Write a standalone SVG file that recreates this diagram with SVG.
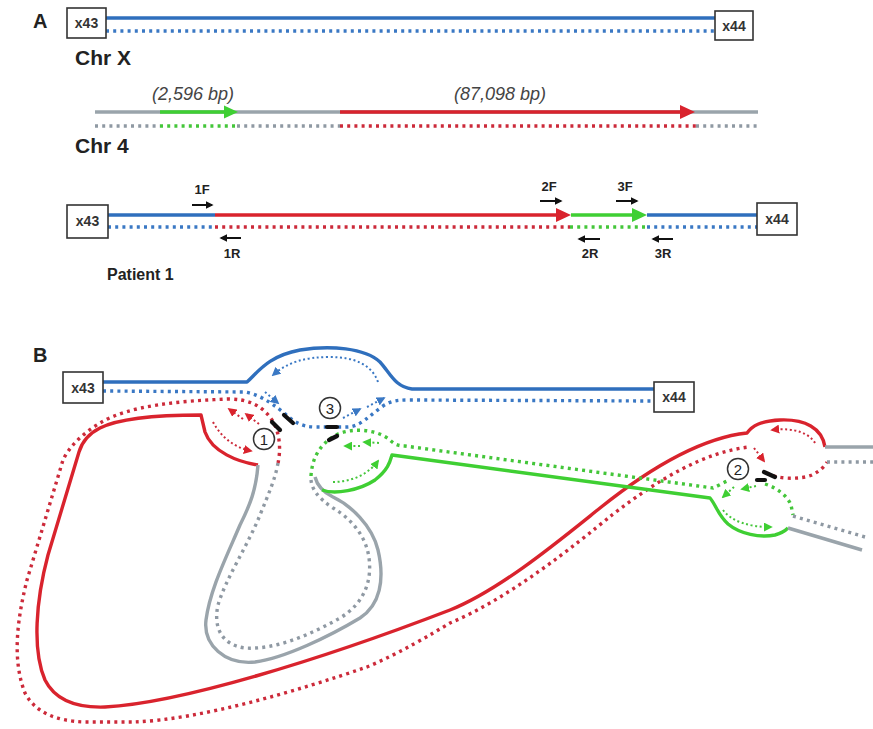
<svg xmlns="http://www.w3.org/2000/svg" width="873" height="729" viewBox="0 0 873 729">
  <defs>
    <marker id="hBlue" viewBox="0 0 10 10" refX="8" refY="5" markerUnits="userSpaceOnUse" markerWidth="9" markerHeight="9" orient="auto">
      <path d="M0,0 L10,5 L0,10 z" fill="#3a78c4"/>
    </marker>
    <marker id="hRed" viewBox="0 0 10 10" refX="8" refY="5" markerUnits="userSpaceOnUse" markerWidth="9" markerHeight="9" orient="auto">
      <path d="M0,0 L10,5 L0,10 z" fill="#d9232d"/>
    </marker>
    <marker id="hGreen" viewBox="0 0 10 10" refX="8" refY="5" markerUnits="userSpaceOnUse" markerWidth="9" markerHeight="9" orient="auto">
      <path d="M0,0 L10,5 L0,10 z" fill="#3fcf33"/>
    </marker>
    <marker id="hBlack" viewBox="0 0 10 10" refX="8" refY="5" markerUnits="userSpaceOnUse" markerWidth="8" markerHeight="8" orient="auto">
      <path d="M0,0 L10,5 L0,10 z" fill="#111"/>
    </marker>
  </defs>
  <style>
    .lbl { font-family: "Liberation Sans", Arial, sans-serif; font-weight: bold; fill: #222; }
    .bp { font-family: "Liberation Sans", Arial, sans-serif; font-style: italic; font-size: 18px; fill: #444; text-anchor: middle; }
    .box { fill: #fff; stroke: #333; stroke-width: 1.6; }
    .boxt { font-family: "Liberation Sans", Arial, sans-serif; font-weight: bold; font-size: 14px; fill: #333; text-anchor: middle; }
    .pr { font-family: "Liberation Sans", Arial, sans-serif; font-weight: bold; font-size: 13px; fill: #222; text-anchor: middle; }
    .s { fill: none; stroke-width: 3.4; stroke-linejoin: round; stroke-linecap: butt; }
    .d { fill: none; stroke-width: 3.4; stroke-dasharray: 3 4.2; stroke-linecap: butt; }
    .fine { fill: none; stroke-width: 2; stroke-dasharray: 2 2.6; }
    .blue { stroke: #2f6fbd; }
    .red { stroke: #d9232d; }
    .green { stroke: #3fcf33; }
    .gray { stroke: #9aa4ab; }
    .dblue { stroke: #3a78c4; }
    .dred { stroke: #cc2a3a; }
    .dgreen { stroke: #44c63a; }
    .dgray { stroke: #8f99a3; }
    .prim { stroke: #111; stroke-width: 2; fill: none; }
    .cut { stroke: #111; stroke-width: 4.2; stroke-linecap: round; }
    .site { fill: #fff; stroke: #333; stroke-width: 1.5; }
    .sitet { font-family: "Liberation Sans", Arial, sans-serif; font-size: 15px; fill: #222; text-anchor: middle; }
  </style>

  <!-- ===== Panel A ===== -->
  <text class="lbl" x="33" y="28" font-size="20">A</text>

  <!-- Chr X -->
  <g id="chrX">
    <path class="s blue" d="M106,18 L716,18"/>
    <path class="d dblue" d="M106,31 L716,31"/>
    <text class="lbl" x="75" y="65" font-size="21">Chr X</text>
  </g>
  <g id="A-x43">
    <rect class="box" x="67" y="8" width="39" height="30"/>
    <text class="boxt" x="86.5" y="28">x43</text>
  </g>
  <g id="A-x44">
    <rect class="box" x="715" y="11" width="38" height="29"/>
    <text class="boxt" x="734" y="31">x44</text>
  </g>

  <!-- Chr 4 -->
  <g id="chr4">
    <path class="s gray" d="M95,112 L758,112"/>
    <path class="s green" d="M160,112 L226,112"/>
    <path d="M224,105.5 L238,112 L224,118.5 z" fill="#3fcf33"/>
    <path class="s red" d="M340,112 L682,112"/>
    <path d="M680,105 L695,112 L680,119 z" fill="#d9232d"/>
    <path class="d dgray" d="M95,126 L160,126"/>
    <path class="d dgreen" d="M160,126 L237,126"/>
    <path class="d dgray" d="M237,126 L340,126"/>
    <path class="d dred" d="M340,126 L696,126"/>
    <path class="d dgray" d="M696,126 L758,126"/>
    <text class="bp" x="193" y="100">(2,596 bp)</text>
    <text class="bp" x="500" y="100">(87,098 bp)</text>
    <text class="lbl" x="75" y="153" font-size="21">Chr 4</text>
  </g>

  <!-- Patient 1 junction -->
  <g id="patient1">
    <path class="s blue" d="M108,215 L215,215"/>
    <path class="s red" d="M215,215 L558,215"/>
    <path d="M556,208 L571,215 L556,222 z" fill="#d9232d"/>
    <path class="s green" d="M571,215 L634,215"/>
    <path d="M632,208 L647,215 L632,222 z" fill="#3fcf33"/>
    <path class="s blue" d="M647,215 L757,215"/>
    <path class="d dblue" d="M108,227 L215,227"/>
    <path class="d dred" d="M215,227 L570,227"/>
    <path class="d dgreen" d="M570,227 L647,227"/>
    <path class="d dblue" d="M647,227 L757,227"/>
    <text class="lbl" x="107" y="280" font-size="16">Patient 1</text>
  </g>
  <g id="P-x43">
    <rect class="box" x="67" y="205" width="41" height="33"/>
    <text class="boxt" x="87.5" y="226">x43</text>
  </g>
  <g id="P-x44">
    <rect class="box" x="757" y="203" width="40" height="32"/>
    <text class="boxt" x="777" y="224">x44</text>
  </g>

  <!-- primers -->
  <g id="primers">
    <path class="prim" d="M192,205 L212,205" marker-end="url(#hBlack)"/>
    <text class="pr" x="202" y="194">1F</text>
    <path class="prim" d="M241,238 L221,238" marker-end="url(#hBlack)"/>
    <text class="pr" x="232" y="258">1R</text>
    <path class="prim" d="M540,201 L561,201" marker-end="url(#hBlack)"/>
    <text class="pr" x="549" y="191">2F</text>
    <path class="prim" d="M616,201 L637,201" marker-end="url(#hBlack)"/>
    <text class="pr" x="625" y="191">3F</text>
    <path class="prim" d="M600,239 L579,239" marker-end="url(#hBlack)"/>
    <text class="pr" x="590" y="258">2R</text>
    <path class="prim" d="M673,239 L653,239" marker-end="url(#hBlack)"/>
    <text class="pr" x="663" y="258">3R</text>
  </g>

  <!-- ===== Panel B ===== -->
  <text class="lbl" x="33" y="362" font-size="20">B</text>

  <g id="strands">
    <!-- blue strands with the bulge -->
    <path class="s blue" d="M103,382 L247,382 C258,372 268,356 300,350 C330,345 365,348 380,362 C390,373 395,387 412,389 L654,389"/>
    <path class="d dblue" d="M103,391 L245,392 C258,394 270,402 283,412 C292,420 300,427 315,427 L347,427 C360,427 370,415 383,406 C392,400 400,400 410,400 L654,401"/>

    <!-- red solid loop -->
    <path class="s red" d="M258,465 C238,462 212,452 205,432 L201,415 C160,415 120,418 100,428 C88,434 82,442 79,452 L48,555 C36,600 32,650 45,680 C55,700 75,708 105,707 C180,703 320,660 450,610 C500,590 560,540 600,508 C650,468 700,438 747,433 C752,426 760,421 780,420 C805,419 822,428 825,447"/>
    <path class="s gray" d="M825,447 L873,447"/>

    <!-- red dotted loop -->
    <path class="d dred" d="M278,463 C281,450 280,432 272,420 C262,405 248,399 228,399 C180,401 130,405 100,423 C85,432 70,445 63,460 L27,580 C17,620 12,660 25,693 C35,712 55,721 85,722 L133,722 C200,720 300,690 367,667 C400,653 430,635 450,623 C510,598 575,545 612,515 C660,478 705,452 749,447"/>
    <path class="d dred" d="M767,473 C775,479 800,480 812,475 C820,471 825,466 827,462"/>
    <path class="d dgray" d="M827,462 L873,462"/>

    <!-- gray loop -->
    <path class="s gray" d="M258,465 C256,490 250,505 240,525 C225,560 210,590 206,620 C203,645 225,665 255,662 C285,658 330,636 360,618 C380,605 385,580 378,550 C372,525 350,505 333,497 C323,492 317,485 315,477"/>
    <path class="d dgray" d="M278,463 C275,480 268,495 260,515 C248,545 225,580 218,605 C213,628 222,645 245,648 C275,650 310,635 340,618 C365,603 372,580 369,558 C366,535 350,518 333,508 C318,498 310,488 311,476"/>

    <!-- green strands -->
    <path class="s green" d="M322,490 C335,495 360,490 375,480 C388,470 390,462 392,455 L710,498 C716,505 718,515 728,524 C740,534 760,538 775,535 C782,533 786,530 788,528"/>
    <path class="s gray" d="M788,528 L862,550"/>
    <path class="d dgreen" d="M311,476 C312,458 320,443 338,434 C355,427 378,430 390,440 C394,444 398,446 405,446 L713,488 C718,486 724,482 730,480"/>
    <path class="d dgreen" d="M765,484 C778,488 788,497 791,505 L793,515"/>
    <path class="d dgray" d="M793,516 L865,537"/>
  </g>

  <!-- synthesis arcs and direction arrows -->
  <g id="arrows">
    <path class="fine dblue" d="M378,382 C372,365 355,357 330,357 C305,357 288,362 273,375" marker-end="url(#hBlue)"/>
    <path class="fine dred" d="M213,422 C220,435 232,447 251,451" marker-end="url(#hRed)"/>
    <path class="fine dgreen" d="M333,482 C350,482 368,475 378,461" marker-end="url(#hGreen)"/>
    <path class="fine dred" d="M815,443 C810,434 795,427 772,430" marker-end="url(#hRed)"/>
    <path class="fine dgreen" d="M723,510 C732,522 750,527 771,527" marker-end="url(#hGreen)"/>

    <path class="fine dblue" d="M265,392 L278,403" marker-end="url(#hBlue)"/>
    <path class="fine dblue" d="M343,418 L360,409" marker-end="url(#hBlue)"/>
    <path class="fine dblue" d="M367,407 L384,398" marker-end="url(#hBlue)"/>
    <path class="fine dred" d="M243,419 L229,409" marker-end="url(#hRed)"/>
    <path class="fine dred" d="M259,424 L246,414" marker-end="url(#hRed)"/>
    <path class="fine dgreen" d="M360,446 L345,446" marker-end="url(#hGreen)"/>
    <path class="fine dgreen" d="M379,443 L364,442" marker-end="url(#hGreen)"/>
    <path class="fine dred" d="M754,448 L764,461" marker-end="url(#hRed)"/>
    <path class="fine dgreen" d="M734,487 L723,497" marker-end="url(#hGreen)"/>
    <path class="fine dgreen" d="M756,486 L742,489" marker-end="url(#hGreen)"/>
  </g>

  <!-- breakpoint marks -->
  <g id="cuts">
    <path class="cut" d="M272,422 L280,430"/>
    <path class="cut" d="M284,415 L293,423"/>
    <path class="cut" d="M327,427 L337,427"/>
    <path class="cut" d="M329,440 L337,436"/>
    <path class="cut" d="M757,480 L765,480"/>
    <path class="cut" d="M764,472 L775,477"/>
  </g>

  <g id="site1">
    <circle class="site" cx="264" cy="439" r="10.5"/>
    <text class="sitet" x="264" y="444.5">1</text>
  </g>
  <g id="site2">
    <circle class="site" cx="738" cy="469" r="10.5"/>
    <text class="sitet" x="738" y="474.5">2</text>
  </g>
  <g id="site3">
    <circle class="site" cx="330" cy="408" r="10.5"/>
    <text class="sitet" x="330" y="413.5">3</text>
  </g>

  <g id="B-x43">
    <rect class="box" x="63" y="372" width="40" height="31"/>
    <text class="boxt" x="83" y="393">x43</text>
  </g>
  <g id="B-x44">
    <rect class="box" x="654" y="382" width="40" height="30"/>
    <text class="boxt" x="674" y="402">x44</text>
  </g>
</svg>
